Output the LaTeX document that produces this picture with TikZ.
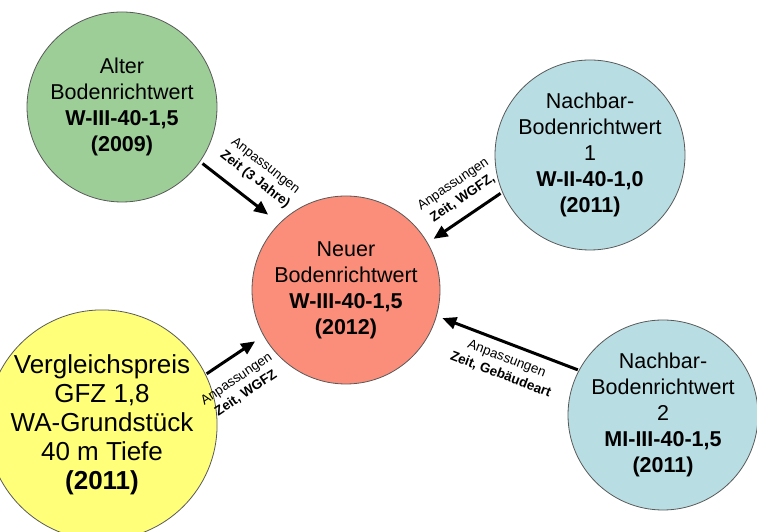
\documentclass[tikz,border=0pt]{standalone}
\usepackage{fontspec}
\setmainfont{Liberation Sans}
\usetikzlibrary{arrows.meta}

\definecolor{altgruen}{RGB}{157,206,152}
\definecolor{neurot}{RGB}{250,142,122}
\definecolor{nachbarblau}{RGB}{184,222,228}
\definecolor{vglgelb}{RGB}{255,255,122}

\begin{document}
\begin{tikzpicture}[x=1pt, y=1pt,
	kreis/.style={circle, draw=black!65, line width=0.8pt, minimum size=190pt, inner sep=0pt, align=center, font=\fontsize{21.5}{26}\selectfont},
	pfeil/.style={-{Triangle[length=14pt, width=12pt]}, line width=3pt},
	anp/.style={sloped, align=center, inner sep=0pt, font=\fontsize{13.5}{17}\selectfont}]
	\useasboundingbox (0, 0) rectangle (757, 532);

	% Kreise
	\node [kreis, fill=neurot, minimum size=188pt] (neu) at (346, 242) {Neuer\\Bodenrichtwert\\\textbf{W-III-40-1,5}\\\textbf{(2012)}};
	\node [kreis, fill=altgruen] (alt) at (122, 425) {Alter\\Bodenrichtwert\\\textbf{W-III-40-1,5}\\\textbf{(2009)}};
	\node [kreis, fill=nachbarblau] (nb1) at (590, 377) {Nachbar-\\Bodenrichtwert\\1\\\textbf{W-II-40-1,0}\\\textbf{(2011)}};
	\node [kreis, fill=nachbarblau] (nb2) at (663, 117) {Nachbar-\\Bodenrichtwert\\2\\\textbf{MI-III-40-1,5}\\\textbf{(2011)}};
	\node [kreis, fill=vglgelb, minimum size=192pt, font=\fontsize{26}{29}\selectfont] (vgl) at (102, 107) {Vergleichspreis\\GFZ 1,8\\WA-Grundstück\\40 m Tiefe\\\textbf{(2011)}};

	% Anpassungen
	\draw [pfeil, shorten <=3pt, shorten >=14pt] (alt.-35) -- (neu.135)
		node [anp, pos=0.54, above=12pt] {Anpassungen\\\textbf{Zeit (3 Jahre)}};
	\draw [pfeil, shorten <=2pt, shorten >=7pt] (nb1.203) -- (neu.30)
		node [anp, pos=0.4, above=10pt] {Anpassungen\\\textbf{Zeit, WGFZ,}};
	\draw [pfeil, shorten <=1pt, shorten >=10pt] (vgl.26) -- (neu.-151)
		node [anp, pos=0.33, below=14pt] {Anpassungen\\\textbf{Zeit, WGFZ}};
	\draw [pfeil, shorten <=1pt, shorten >=6pt] (nb2.152) -- (neu.-16)
		node [anp, pos=0.47, below=8pt] {Anpassungen\\\textbf{Zeit, Gebäudeart}};
\end{tikzpicture}
\end{document}
